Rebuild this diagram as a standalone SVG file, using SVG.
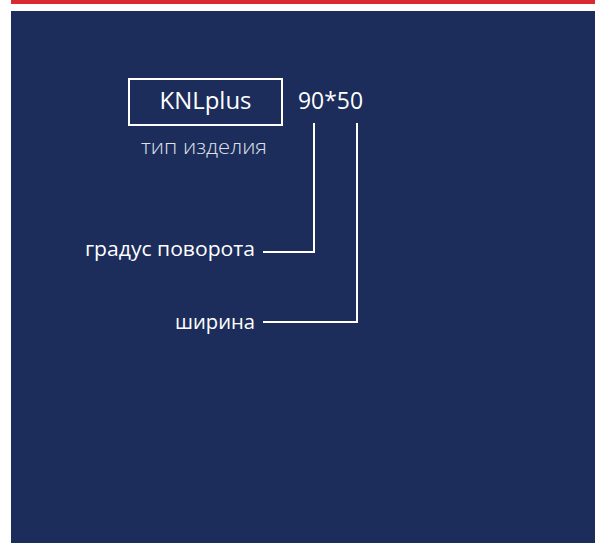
<svg xmlns="http://www.w3.org/2000/svg" width="595" height="543" viewBox="0 0 595 543">
<style>
.t{font-family:"Open Sans","Noto Sans",sans-serif;fill:#ffffff}
.ln{stroke:#ffffff;stroke-width:2;fill:none}
</style>
<rect x="0" y="0" width="595" height="543" fill="#ffffff"/>
<rect x="11" y="0" width="584" height="4" fill="#d92a30"/>
<rect x="11" y="11" width="584" height="532" fill="#1c2d5c"/>
<g id="node-type">
<rect x="129" y="79" width="153" height="46" class="ln"/>
<text class="t" x="205.5" y="109" font-size="23" text-anchor="middle" textLength="92" lengthAdjust="spacingAndGlyphs">KNLplus</text>
<text class="t" x="204" y="154" font-size="20" font-weight="300" text-anchor="middle" style="fill:#dfe1e8" textLength="126" lengthAdjust="spacingAndGlyphs">тип изделия</text>
</g>
<g id="node-size">
<text class="t" x="330.5" y="109" font-size="23" text-anchor="middle" textLength="65" lengthAdjust="spacingAndGlyphs">90*50</text>
</g>
<g id="node-angle">
<text class="t" x="255" y="256" font-size="20.5" text-anchor="end" textLength="170" lengthAdjust="spacingAndGlyphs">градус поворота</text>
</g>
<g id="node-width">
<text class="t" x="255" y="329" font-size="20.5" text-anchor="end" textLength="80" lengthAdjust="spacingAndGlyphs">ширина</text>
</g>
<g id="connectors">
<polyline class="ln" points="314,123 314,252 263,252"/>
<polyline class="ln" points="357,123 357,322 263,322"/>
</g>
</svg>
